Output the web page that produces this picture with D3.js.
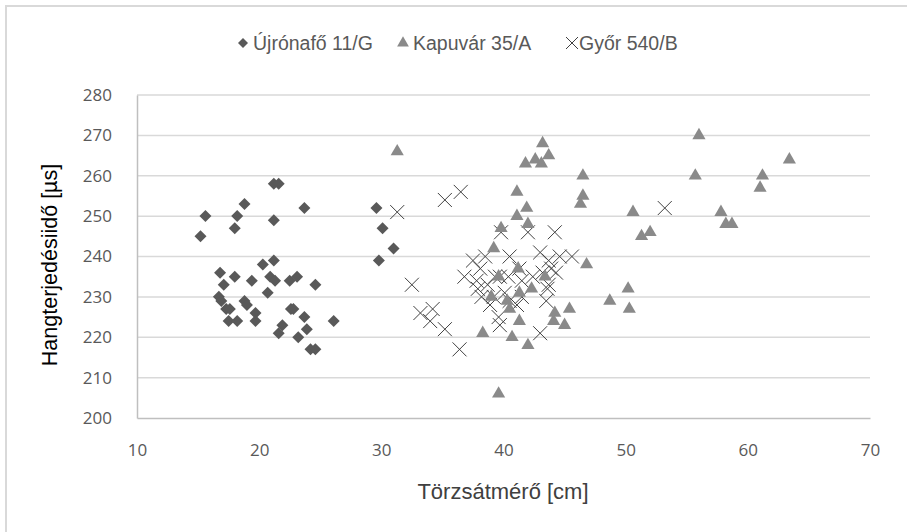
<!DOCTYPE html>
<html>
<head>
<meta charset="utf-8">
<script src="https://cdn.jsdelivr.net/npm/d3@7"></script>
<style>
  body { margin: 0; background: #fff; }
  svg { display: block; }
</style>
</head>
<body>
<svg id="chart" width="907" height="532"></svg>
<script>
// series names
const seriesNames = ['Újrónafő 11/G', 'Kapuvár 35/A', 'Győr 540/B'];

// Újrónafő 11/G (diamonds)
const ujX = [21.2, 21.6, 18.8, 23.7, 15.6, 18.2, 21.2, 18.0, 15.2, 21.2, 20.3, 16.8, 18.0, 19.4, 20.9, 21.3, 22.5, 23.1, 24.6, 17.1,
             20.7, 16.7, 16.9, 18.8, 19.0, 17.3, 17.6, 19.7, 22.6, 22.8, 23.7, 26.1, 17.5, 18.2, 19.7, 21.9, 23.9, 21.6, 23.2, 24.2,
             24.6, 29.6, 30.1, 31.0, 29.8];
const ujY = [258, 258, 253, 252, 250, 250, 249, 247, 245, 239, 238, 236, 235, 234, 235, 234, 234, 235, 233, 233,
             231, 230, 229, 229, 228, 227, 227, 226, 227, 227, 225, 224, 224, 224, 224, 223, 222, 221, 220, 217,
             217, 252, 247, 242, 239];

// Kapuvár 35/A (triangles)
const kapX = [43.2, 42.6, 43.7, 41.8, 43.1, 46.5, 41.1, 46.5, 46.3, 41.9, 41.1, 42.0, 50.6, 51.3, 52.0, 39.8, 39.2, 46.8, 50.2, 48.7,
              50.3, 45.4, 44.2, 44.1, 45.0, 41.3, 38.3, 40.7, 42.0, 39.6, 56.0, 63.4, 55.7, 61.2, 61.0, 57.8, 58.2, 58.7, 41.2, 39.6,
              43.4, 42.3, 41.3, 39.0, 40.5, 40.3, 31.3];
const kapY = [268, 264, 265, 263, 263, 260, 256, 255, 253, 252, 250, 248, 251, 245, 246, 247, 242, 238, 232, 229,
              227, 227, 226, 224, 223, 224, 221, 220, 218, 206, 270, 264, 260, 260, 257, 251, 248, 248, 237, 235,
              235, 232, 231, 230, 227, 229, 266];

// Győr 540/B (crosses)
const gyorX = [36.5, 35.2, 31.3, 32.5, 37.5, 36.8, 33.2, 34.2, 34.0, 35.2, 36.4, 53.2, 39.8, 42.0, 44.2, 38.5, 40.5, 43.0, 43.7, 44.6,
               45.6, 38.1, 37.8, 39.3, 39.7, 38.7, 40.4, 41.3, 41.5, 42.4, 43.2, 43.9, 44.3, 43.7, 37.9, 38.2, 39.2, 38.9, 40.1, 40.5,
               41.5, 41.1, 39.6, 39.7, 43.5, 43.0, 43.6];
const gyorY = [256, 254, 251, 233, 239, 235, 226, 227, 224, 222, 217, 252, 246, 246, 246, 240, 240, 241, 239, 240,
               240, 237, 234, 235, 235, 233, 235, 237, 234, 235, 236, 237, 236, 233, 232, 230, 230, 228, 231, 229,
               230, 228, 225, 223, 229, 221, 232];

const xTicks = [10, 20, 30, 40, 50, 60, 70];
const yTicks = [200, 210, 220, 230, 240, 250, 260, 270, 280];

const svg = d3.select('#chart');
const plot = { left: 137, right: 870, top: 95, bottom: 418 };
const narrow = "'Liberation Sans Narrow', 'Liberation Sans', Arial, sans-serif";
const tickFont = "'Open Sans', sans-serif";

// chart border
svg.append('rect')
    .attr('x', 6).attr('y', 6)
    .attr('width', 920).attr('height', 540)
    .attr('fill', '#fff')
    .attr('stroke', '#d9d9d9')
    .attr('stroke-width', 2);

const x = d3.scaleLinear().domain([10, 70]).range([plot.left, plot.right]);
const y = d3.scaleLinear().domain([200, 280]).range([plot.bottom, plot.top]);

// gridlines
svg.append('g')
    .selectAll('line')
    .data(yTicks.slice(1))
    .join('line')
    .attr('x1', plot.left).attr('x2', plot.right)
    .attr('y1', d => y(d)).attr('y2', d => y(d))
    .attr('stroke', '#d9d9d9')
    .attr('stroke-width', 1.5);

// y axis
const yAxis = svg.append('g')
    .attr('transform', `translate(${plot.left},0)`)
    .call(d3.axisLeft(y).tickValues(yTicks).tickSize(0).tickPadding(25));
yAxis.select('.domain').attr('stroke', '#bfbfbf').attr('stroke-width', 1.5);
yAxis.selectAll('text')
    .attr('font-family', tickFont).attr('font-size', 17).attr('fill', '#595959');

// x axis
const xAxis = svg.append('g')
    .attr('transform', `translate(0,${plot.bottom})`)
    .call(d3.axisBottom(x).tickValues(xTicks).tickSize(0).tickPadding(26));
xAxis.select('.domain').attr('stroke', '#bfbfbf').attr('stroke-width', 1.5);
xAxis.selectAll('text')
    .attr('font-family', tickFont).attr('font-size', 17).attr('fill', '#595959');

// axis titles
svg.append('text')
    .text('Törzsátmérő [cm]')
    .attr('x', 503)
    .attr('y', 499)
    .attr('text-anchor', 'middle')
    .attr('font-family', narrow).attr('font-size', 22).attr('fill', '#404040');

svg.append('text')
    .text('Hangterjedésiidő [µs]')
    .attr('transform', 'translate(57,265)rotate(-90)')
    .attr('text-anchor', 'middle')
    .attr('font-family', narrow).attr('font-size', 21.5).attr('fill', '#000');

// markers
const diamond = d3.symbol(d3.symbolSquare, 72)();
const triangle = d3.symbol(d3.symbolTriangle, 75)();
const cross = 'M-7,-7L7,7M-7,7L7,-7';

const marks = svg.append('g');

marks.append('g').selectAll('path')
    .data(d3.zip(gyorX, gyorY))
    .join('path')
    .attr('d', cross)
    .attr('transform', d => `translate(${x(d[0])},${y(d[1])})`)
    .attr('fill', 'none')
    .attr('stroke', '#404040')
    .attr('stroke-width', 1);

marks.append('g').selectAll('path')
    .data(d3.zip(kapX, kapY))
    .join('path')
    .attr('d', triangle)
    .attr('transform', d => `translate(${x(d[0])},${y(d[1])})`)
    .attr('fill', '#8a8a8a');

marks.append('g').selectAll('path')
    .data(d3.zip(ujX, ujY))
    .join('path')
    .attr('d', diamond)
    .attr('transform', d => `translate(${x(d[0])},${y(d[1])})rotate(45)`)
    .attr('fill', '#595959');

// legend
const legend = [
    { name: seriesNames[0], x: 243, shape: 'diamond' },
    { name: seriesNames[1], x: 403, shape: 'triangle' },
    { name: seriesNames[2], x: 572, shape: 'cross' }
];
const lg = svg.append('g').selectAll('g')
    .data(legend)
    .join('g')
    .attr('transform', d => `translate(${d.x},43)`);

lg.append('path')
    .attr('d', d => d.shape === 'diamond' ? d3.symbol(d3.symbolSquare, 50)()
        : d.shape === 'triangle' ? d3.symbol(d3.symbolTriangle, 60)() : 'M-6,-6L6,6M-6,6L6,-6')
    .attr('transform', d => d.shape === 'diamond' ? 'rotate(45)' : '')
    .attr('fill', d => d.shape === 'diamond' ? '#595959' : d.shape === 'triangle' ? '#8a8a8a' : 'none')
    .attr('stroke', d => d.shape === 'cross' ? '#404040' : 'none');

lg.append('text')
    .text(d => d.name)
    .attr('x', d => d.shape === 'cross' ? 7 : 10)
    .attr('y', 7)
    .attr('font-family', narrow).attr('font-size', 19.5).attr('fill', '#595959');
</script>
</body>
</html>
